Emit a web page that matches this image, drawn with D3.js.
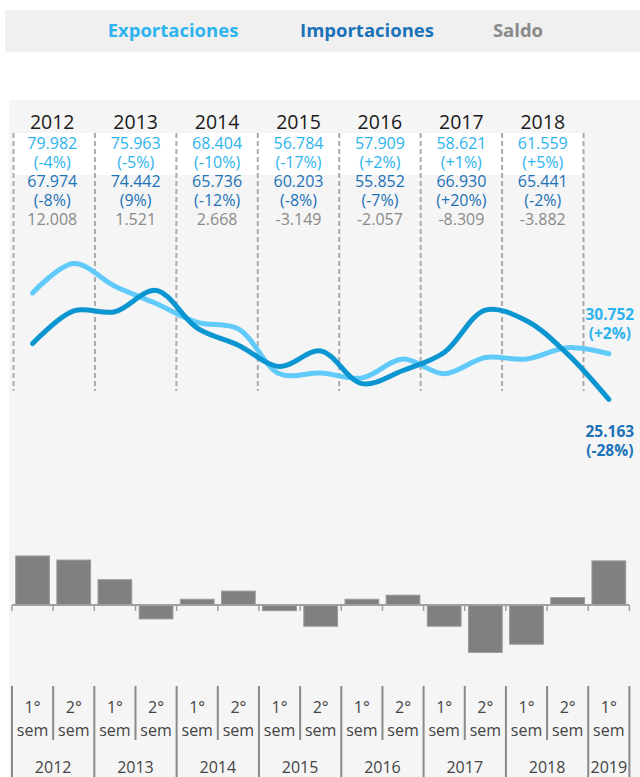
<!DOCTYPE html>
<html>
<head>
<meta charset="utf-8">
<script src="https://cdn.jsdelivr.net/npm/d3@7"></script>
<style>
  body { margin: 0; background: #fff; }
  svg { display: block; font-family: "Open Sans", sans-serif; }
</style>
</head>
<body>
<div id="chart-area"></div>
<script>
// annual table
const years = ["2012", "2013", "2014", "2015", "2016", "2017", "2018"]
const expTotals = ["79.982", "75.963", "68.404", "56.784", "57.909", "58.621", "61.559"]
const expPct = ["(-4%)", "(-5%)", "(-10%)", "(-17%)", "(+2%)", "(+1%)", "(+5%)"]
const impTotals = ["67.974", "74.442", "65.736", "60.203", "55.852", "66.930", "65.441"]
const impPct = ["(-8%)", "(9%)", "(-12%)", "(-8%)", "(-7%)", "(+20%)", "(-2%)"]
const saldoTotals = ["12.008", "1.521", "2.668", "-3.149", "-2.057", "-8.309", "-3.882"]

// semesters
const semesters = ["2012-1", "2012-2", "2013-1", "2013-2", "2014-1", "2014-2", "2015-1", "2015-2",
  "2016-1", "2016-2", "2017-1", "2017-2", "2018-1", "2018-2", "2019-1"]
const semLabels = ["1°", "2°", "1°", "2°", "1°", "2°", "1°", "2°", "1°", "2°", "1°", "2°", "1°", "2°", "1°"]
const axisYears = ["2012", "2013", "2014", "2015", "2016", "2017", "2018", "2019"]
const exportsSem = [38.2, 41.8, 39.0, 36.9, 34.6, 33.8, 28.3, 28.4, 27.8, 30.1, 28.3, 30.3, 30.1, 31.5, 30.752]
const importsSem = [32.0, 36.0, 35.9, 38.5, 33.9, 31.8, 29.2, 31.1, 27.1, 28.7, 30.9, 36.1, 34.8, 30.7, 25.163]
const saldoSem = [6.0, 5.5, 3.1, -1.7, 0.7, 1.7, -0.7, -2.6, 0.7, 1.2, -2.6, -5.8, -4.8, 0.9, 5.4]
const expLast = ["30.752", "(+2%)"]
const impLast = ["25.163", "(-28%)"]

const COL = { EXP: "#2db4ee", IMP: "#1b72b8", SALDO: "#8a8a8a", EXPLINE: "#60cbfa", IMPLINE: "#0b96d1" }

const svg = d3.select("#chart-area").append("svg")
  .attr("width", 640)
  .attr("height", 777)

// header legend
svg.append("rect").attr("x", 5).attr("y", 10).attr("width", 635).attr("height", 42).attr("fill", "#f0f0f0")
const legend = [["Exportaciones", 173, COL.EXP], ["Importaciones", 367, COL.IMP], ["Saldo", 518, COL.SALDO]]
svg.selectAll(".legend").data(legend).enter().append("text")
  .attr("class", "legend")
  .attr("x", d => d[1])
  .attr("y", 37)
  .attr("text-anchor", "middle")
  .attr("font-size", "18.5px")
  .attr("font-weight", "bold")
  .attr("fill", d => d[2])
  .text(d => d[0])

// panel
svg.append("rect").attr("x", 9).attr("y", 100).attr("width", 631).attr("height", 677).attr("fill", "#f5f5f5")
svg.append("rect").attr("x", 13).attr("y", 133).attr("width", 570).attr("height", 42).attr("fill", "#fff")

// table columns
const col = d3.scaleBand().domain(years).range([13.5, 583.5])

svg.selectAll(".vline").data(d3.range(years.length + 1)).enter().append("line")
  .attr("class", "vline")
  .attr("x1", i => 13.5 + i * col.step())
  .attr("x2", i => 13.5 + i * col.step())
  .attr("y1", 133)
  .attr("y2", 391)
  .attr("stroke", "#ababab")
  .attr("stroke-width", 2)
  .attr("stroke-dasharray", "5,3")

const rows = [
  [years, "#1a1a1a", 129, "19.5px"],
  [expTotals, COL.EXP, 149, "16px"],
  [expPct, COL.EXP, 168, "16px"],
  [impTotals, COL.IMP, 187, "16px"],
  [impPct, COL.IMP, 206, "16px"],
  [saldoTotals, COL.SALDO, 225, "16px"]
]
rows.forEach(r => {
  svg.append("g").selectAll("text").data(r[0]).enter().append("text")
    .attr("x", (d, i) => col(years[i]) + col.bandwidth() / 2 - (i === 0 ? 2 : 0))
    .attr("y", r[2])
    .attr("text-anchor", "middle")
    .attr("font-size", r[3])
    .attr("fill", r[1])
    .text(d => d)
})

// semester scale and value scale
const x = d3.scaleBand().domain(semesters).range([12, 629.4]).paddingInner(0.18).paddingOuter(0.09)
const step = x.step()
const x0 = 12
const y = d3.scaleLinear().domain([0, 40]).range([605, 605 - 40 * 8.17])

// lines
const line = d3.line()
  .x((d, i) => x(semesters[i]) + x.bandwidth() / 2)
  .y(d => y(d))
  .curve(d3.curveCatmullRom.alpha(0.5))

svg.append("path").datum(exportsSem)
  .attr("d", line)
  .attr("fill", "none")
  .attr("stroke", COL.EXPLINE)
  .attr("stroke-width", 5)
  .attr("stroke-linecap", "round")

svg.append("path").datum(importsSem)
  .attr("d", line)
  .attr("fill", "none")
  .attr("stroke", COL.IMPLINE)
  .attr("stroke-width", 5)
  .attr("stroke-linecap", "round")

const lastX = x(semesters[14]) + x.bandwidth() / 2 + 1
svg.append("g").selectAll("text").data(expLast).enter().append("text")
  .attr("x", lastX)
  .attr("y", (d, i) => y(exportsSem[14]) - 34 + i * 19)
  .attr("text-anchor", "middle")
  .attr("font-size", "15.5px")
  .attr("font-weight", "bold")
  .attr("fill", COL.EXP)
  .text(d => d)
svg.append("g").selectAll("text").data(impLast).enter().append("text")
  .attr("x", lastX)
  .attr("y", (d, i) => y(importsSem[14]) + 38 + i * 19)
  .attr("text-anchor", "middle")
  .attr("font-size", "15.5px")
  .attr("font-weight", "bold")
  .attr("fill", COL.IMP)
  .text(d => d)

// saldo bars
svg.append("g").selectAll("rect").data(saldoSem).enter().append("rect")
  .attr("x", (d, i) => x(semesters[i]))
  .attr("y", d => y(Math.max(0, d)))
  .attr("width", x.bandwidth())
  .attr("height", d => Math.abs(y(d) - y(0)))
  .attr("fill", "#808080")
  .attr("stroke", "#9a9a9a")
  .attr("stroke-width", 1)

// bar axis with ticks on band edges
const bounds = d3.range(semesters.length + 1)
svg.append("line")
  .attr("x1", x0).attr("x2", x0 + step * semesters.length)
  .attr("y1", y(0)).attr("y2", y(0))
  .attr("stroke", "#a0a0a0").attr("stroke-width", 2)
svg.append("g").selectAll("line").data(bounds).enter().append("line")
  .attr("x1", i => x0 + i * step).attr("x2", i => x0 + i * step)
  .attr("y1", y(0)).attr("y2", y(0) + 6)
  .attr("stroke", "#a0a0a0").attr("stroke-width", 1.5)

// bottom category axis
svg.append("g").selectAll("line").data(bounds).enter().append("line")
  .attr("x1", i => x0 + i * step).attr("x2", i => x0 + i * step)
  .attr("y1", 686)
  .attr("y2", i => (i % 2 === 0 || i === semesters.length) ? 777 : 740)
  .attr("stroke", "#8a8a8a")
  .attr("stroke-width", 2)

svg.append("g").selectAll("text").data(semLabels).enter().append("text")
  .attr("x", (d, i) => x0 + (i + 0.5) * step)
  .attr("y", 713)
  .attr("text-anchor", "middle")
  .attr("font-size", "16px")
  .attr("fill", "#444")
  .text(d => d)

svg.append("g").selectAll("text").data(semLabels).enter().append("text")
  .attr("x", (d, i) => x0 + (i + 0.5) * step)
  .attr("y", 736)
  .attr("text-anchor", "middle")
  .attr("font-size", "16px")
  .attr("fill", "#444")
  .text("sem")

svg.append("g").selectAll("text").data(axisYears).enter().append("text")
  .attr("x", (d, i) => i < 7 ? x0 + (2 * i + 1) * step : x0 + 14.5 * step)
  .attr("y", 773)
  .attr("text-anchor", "middle")
  .attr("font-size", "16px")
  .attr("fill", "#444")
  .text(d => d)
</script>
</body>
</html>
